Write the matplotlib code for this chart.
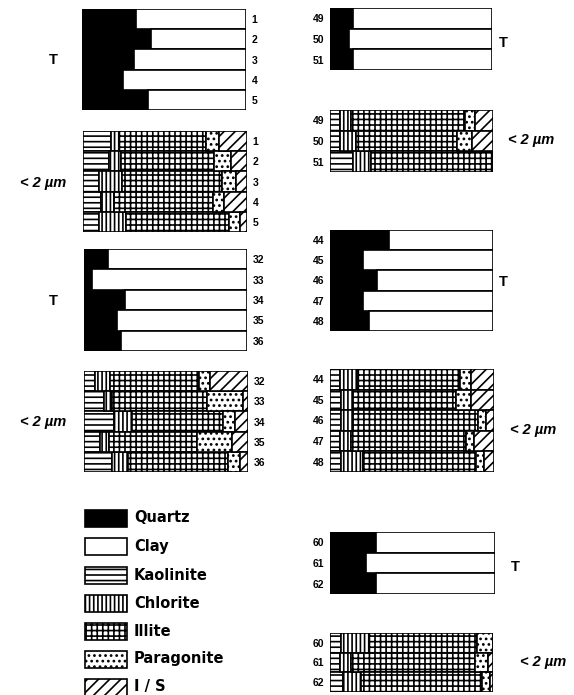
import matplotlib
matplotlib.use("Agg")
import matplotlib.pyplot as plt
from matplotlib.patches import Rectangle

plt.rcParams["font.family"] = ["Liberation Sans", "DejaVu Sans"]
plt.rcParams["font.weight"] = "bold"
plt.rcParams["hatch.linewidth"] = 1.2

# mineral classes and legend styles
minerals = ["Quartz", "Clay", "Kaolinite", "Chlorite", "Illite", "Paragonite", "I/S"]
legend_labels = ["Quartz", "Clay", "Kaolinite", "Chlorite", "Illite", "Paragonite", "I / S"]

# whole rock (T) panels: quartz vs clay, percent
samples_1_5 = ["1", "2", "3", "4", "5"]
quartz_1_5 = [33, 42, 32, 25, 40]
clay_1_5 = [67, 58, 68, 75, 60]

samples_32_36 = ["32", "33", "34", "35", "36"]
quartz_32_36 = [15, 5, 25, 20, 23]
clay_32_36 = [85, 95, 75, 80, 77]

samples_49_51 = ["49", "50", "51"]
quartz_49_51 = [14, 12, 14]
clay_49_51 = [86, 88, 86]

samples_44_48 = ["44", "45", "46", "47", "48"]
quartz_44_48 = [36, 20, 29, 20, 24]
clay_44_48 = [64, 80, 71, 80, 76]

samples_60_62 = ["60", "61", "62"]
quartz_60_62 = [28, 22, 28]
clay_60_62 = [72, 78, 72]

# <2 um fraction: kaolinite, chlorite, illite, paragonite, I/S (percent)
kaol_1_5 = [17, 16, 10, 11, 10]
chl_1_5 = [5, 7, 14, 8, 16]
ill_1_5 = [53, 57, 61, 60, 63]
par_1_5 = [8, 10, 8, 7, 7]
is_1_5 = [17, 10, 7, 14, 4]

kaol_32_36 = [7, 12, 18, 10, 17]
chl_32_36 = [9, 5, 11, 5, 10]
ill_32_36 = [54, 58, 56, 54, 61]
par_32_36 = [7, 22, 7, 21, 7]
is_32_36 = [23, 3, 8, 10, 5]

kaol_49_51 = [6, 6, 14]
chl_49_51 = [7, 10, 11]
ill_49_51 = [70, 62, 75]
par_49_51 = [6, 9, 0]
is_49_51 = [11, 13, 0]

kaol_44_48 = [6, 7, 7, 6, 7]
chl_44_48 = [11, 7, 7, 7, 13]
ill_44_48 = [62, 63, 76, 70, 69]
par_44_48 = [7, 9, 5, 5, 5]
is_44_48 = [14, 14, 5, 12, 6]

kaol_60_62 = [7, 6, 8]
chl_60_62 = [17, 7, 11]
ill_60_62 = [66, 76, 74]
par_60_62 = [10, 8, 5]
is_60_62 = [0, 3, 2]

styles = {
    "Quartz": dict(color="black", hatch=None),
    "Clay": dict(color="white", hatch=None),
    "Kaolinite": dict(color="white", hatch="---"),
    "Chlorite": dict(color="white", hatch="||||"),
    "Illite": dict(color="white", hatch="+++"),
    "Paragonite": dict(color="white", hatch="..."),
    "I/S": dict(color="white", hatch="///"),
}

W, H = 574, 695
fig = plt.figure(figsize=(W / 100, H / 100), dpi=100)


def panel(box, labels, series, names, numbers_right):
    # box is (x0, y0, x1, y1) in pixels from top-left
    x0, y0, x1, y1 = box
    ax = fig.add_axes([x0 / W, 1 - y1 / H, (x1 - x0) / W, (y1 - y0) / H])
    rows = list(range(len(labels)))
    left = [0] * len(labels)
    for vals, name in zip(series, names):
        st = styles[name]
        ax.barh(rows, vals, left=left, height=1.0, color=st["color"],
                hatch=st["hatch"], edgecolor="black", linewidth=1.2)
        left = [a + b for a, b in zip(left, vals)]
    ax.set_xlim(0, 100)
    ax.set_ylim(len(labels) - 0.5, -0.5)
    ax.set_xticks([])
    ax.set_yticks(rows)
    ax.set_yticklabels(labels, fontsize=7.5, fontweight="bold")
    if numbers_right:
        ax.yaxis.tick_right()
    ax.tick_params(axis="y", length=0, pad=4)
    for s in ax.spines.values():
        s.set_visible(False)
    return ax


clay_names = ["Kaolinite", "Chlorite", "Illite", "Paragonite", "I/S"]

panel((82, 9, 246, 110), samples_1_5, [quartz_1_5, clay_1_5], ["Quartz", "Clay"], True)
panel((83, 131, 247, 232), samples_1_5,
      [kaol_1_5, chl_1_5, ill_1_5, par_1_5, is_1_5], clay_names, True)
panel((84, 249, 247, 351), samples_32_36, [quartz_32_36, clay_32_36], ["Quartz", "Clay"], True)
panel((84, 371, 248, 472), samples_32_36,
      [kaol_32_36, chl_32_36, ill_32_36, par_32_36, is_32_36], clay_names, True)

panel((330, 8, 492, 70), samples_49_51, [quartz_49_51, clay_49_51], ["Quartz", "Clay"], False)
panel((330, 110, 493, 172), samples_49_51,
      [kaol_49_51, chl_49_51, ill_49_51, par_49_51, is_49_51], clay_names, False)
panel((330, 230, 493, 331), samples_44_48, [quartz_44_48, clay_44_48], ["Quartz", "Clay"], False)
panel((330, 369, 494, 472), samples_44_48,
      [kaol_44_48, chl_44_48, ill_44_48, par_44_48, is_44_48], clay_names, False)
panel((330, 532, 495, 594), samples_60_62, [quartz_60_62, clay_60_62], ["Quartz", "Clay"], False)
panel((330, 633, 493, 692), samples_60_62,
      [kaol_60_62, chl_60_62, ill_60_62, par_60_62, is_60_62], clay_names, False)

# overlay for fraction labels and the legend, in pixel coords
ov = fig.add_axes([0, 0, 1, 1], zorder=5)
ov.set_xlim(0, W)
ov.set_ylim(H, 0)
ov.axis("off")
ov.patch.set_alpha(0)

for x, y in [(53, 60), (53, 301), (503, 43), (503, 282), (515, 567)]:
    ov.text(x, y, "T", fontsize=10.5, fontweight="bold", ha="center", va="center")
for x, y in [(20, 183), (20, 422), (508, 140), (510, 430), (520, 662)]:
    ov.text(x, y, "< 2 µm", fontsize=10.5, fontweight="bold", style="italic",
            ha="left", va="center")

# legend
leg_y = [518, 546, 575, 603, 631, 659, 687]
for name, lab, y in zip(minerals, legend_labels, leg_y):
    st = styles[name]
    ov.add_patch(Rectangle((85, y - 8.5), 42, 17, facecolor=st["color"],
                           hatch=st["hatch"], edgecolor="black", linewidth=1.2))
    ov.text(134, y, lab, fontsize=10.5, fontweight="bold", ha="left", va="center",
            family="DejaVu Sans")

fig.savefig("out.png", dpi=100)
